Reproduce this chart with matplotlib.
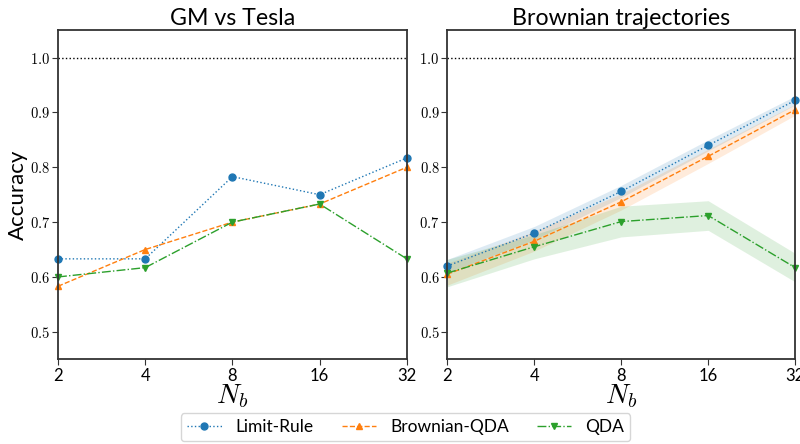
import matplotlib
matplotlib.use("Agg")
import matplotlib.pyplot as plt
from matplotlib.ticker import FixedLocator, FixedFormatter, NullLocator

plt.rcParams['mathtext.fontset'] = 'cm'
plt.rcParams['font.family'] = ['Lato', 'DejaVu Sans']

# number of bins
n_bins = [2, 4, 8, 16, 32]
n_bin_labels = ['2', '4', '8', '16', '32']
y_ticks = [0.5, 0.6, 0.7, 0.8, 0.9, 1.0]

# GM vs Tesla accuracies
gm_limit = [0.633, 0.633, 0.783, 0.750, 0.817]
gm_bqda = [0.583, 0.650, 0.700, 0.733, 0.800]
gm_qda = [0.600, 0.617, 0.700, 0.733, 0.633]

# Brownian trajectories: mean accuracy and half width of the band
br_limit = [0.620, 0.680, 0.756, 0.840, 0.922]
br_limit_err = [0.012, 0.012, 0.011, 0.010, 0.008]
br_bqda = [0.605, 0.665, 0.737, 0.820, 0.905]
br_bqda_err = [0.020, 0.018, 0.015, 0.013, 0.010]
br_qda = [0.607, 0.655, 0.701, 0.712, 0.617]
br_qda_err = [0.025, 0.022, 0.028, 0.027, 0.026]

colors = ['#1f77b4', '#ff7f0e', '#2ca02c']
styles = [':', '--', '-.']
markers = ['o', '^', 'v']
names = ['Limit-Rule', 'Brownian-QDA', 'QDA']

fig = plt.figure(figsize=(8, 4.44), dpi=100)
ax1 = fig.add_axes([0.0725, 0.191, 0.436, 0.741])
ax2 = fig.add_axes([0.559, 0.191, 0.435, 0.741])


def style_axes(ax, title):
    ax.set_xscale('log', base=2)
    ax.set_xlim(2, 32)
    ax.set_ylim(0.45, 1.05)
    ax.xaxis.set_major_locator(FixedLocator(n_bins))
    ax.xaxis.set_major_formatter(FixedFormatter(n_bin_labels))
    ax.xaxis.set_minor_locator(NullLocator())
    ax.set_yticks(y_ticks)
    ax.set_yticklabels(['$%.1f$' % v for v in y_ticks], fontsize=10.5)
    ax.tick_params(axis='x', labelsize=12, length=4, pad=2, color='#333333')
    ax.tick_params(axis='y', length=4, pad=1.5, color='#333333')
    for s in ax.spines.values():
        s.set_color('#333333')
        s.set_linewidth(1.3)
    ax.axhline(1.0, color='black', linestyle=':', linewidth=1)
    ax.set_title(title, fontsize=16.7, pad=4)
    ax.set_xlabel('$N_b$', fontsize=20, labelpad=-1)


style_axes(ax1, 'GM vs Tesla')
style_axes(ax2, 'Brownian trajectories')
ax1.set_ylabel('Accuracy', fontsize=16)
ax1.yaxis.set_label_coords(-0.086, 0.5)

lines = []
for vals, c, ls, m, name in zip([gm_limit, gm_bqda, gm_qda], colors, styles, markers, names):
    ln, = ax1.plot(n_bins, vals, color=c, linestyle=ls, marker=m, markersize=5,
                   linewidth=1, label=name, clip_on=False)
    lines.append(ln)

for vals, err, c, ls, m in zip([br_limit, br_bqda, br_qda],
                               [br_limit_err, br_bqda_err, br_qda_err],
                               colors, styles, markers):
    lo = [v - e for v, e in zip(vals, err)]
    hi = [v + e for v, e in zip(vals, err)]
    ax2.fill_between(n_bins, lo, hi, color=c, alpha=0.15, linewidth=0)
    ax2.plot(n_bins, vals, color=c, linestyle=ls, marker=m, markersize=5,
             linewidth=1, clip_on=False)

fig.legend(handles=lines, loc='center', bbox_to_anchor=(0.507, 0.038), ncol=3,
           fontsize=12.5, frameon=True, columnspacing=1.6, handlelength=2,
           borderpad=0.35, handletextpad=0.8)

fig.savefig('out.png', dpi=100)
